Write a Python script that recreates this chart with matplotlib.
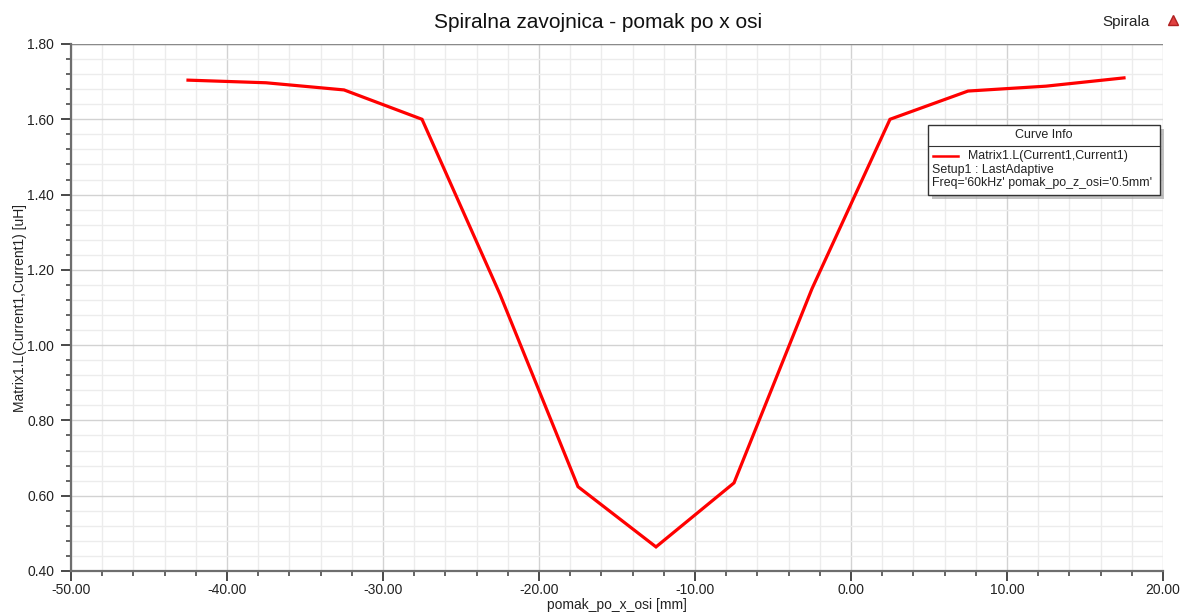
import matplotlib
matplotlib.use("Agg")
import matplotlib.pyplot as plt
from matplotlib.ticker import MultipleLocator, FormatStrFormatter
from matplotlib.patches import Rectangle
from matplotlib.lines import Line2D

plt.rcParams['font.family'] = ['Liberation Sans', 'DejaVu Sans']

title = "Spiralna zavojnica - pomak po x osi"
x_label = "pomak_po_x_osi [mm]"
y_label = "Matrix1.L(Current1,Current1) [uH]"
series_name = "Matrix1.L(Current1,Current1)"
info_lines = ["Setup1 : LastAdaptive", "Freq='60kHz' pomak_po_z_osi='0.5mm'"]
pomak_x = [-42.5, -37.5, -32.5, -27.5, -22.5, -17.5, -12.5, -7.5, -2.5, 2.5, 7.5, 12.5, 17.5]
inductance = [1.704, 1.697, 1.678, 1.600, 1.135, 0.624, 0.464, 0.634, 1.150, 1.600, 1.675, 1.688, 1.710]

fig = plt.figure(figsize=(11.88, 6.14), dpi=100)
ax = fig.add_axes([71/1188, 43/614, 1092/1188, 527/614])

ax.plot(pomak_x, inductance, color='#ff0000', lw=2.3, solid_joinstyle='miter', zorder=5)

ax.set_xlim(-50, 20)
ax.set_ylim(0.40, 1.80)
ax.xaxis.set_major_locator(MultipleLocator(10))
ax.xaxis.set_minor_locator(MultipleLocator(2))
ax.yaxis.set_major_locator(MultipleLocator(0.2))
ax.yaxis.set_minor_locator(MultipleLocator(0.04))
ax.xaxis.set_major_formatter(FormatStrFormatter('%.2f'))
ax.yaxis.set_major_formatter(FormatStrFormatter('%.2f'))

ax.grid(which='major', color='#d2d2d2', lw=1.0)
ax.grid(which='minor', color='#ececec', lw=1.0)
ax.set_axisbelow(True)

for s in ['top', 'right']:
    ax.spines[s].set_visible(False)
for s in ['left', 'bottom']:
    ax.spines[s].set_color('#6e6e6e')
    ax.spines[s].set_linewidth(1.6)
ax.axhline(1.80, color='#8a8a8a', lw=1.0, zorder=1)

ax.tick_params(which='major', direction='out', length=7, width=1.3, color='#3a3a3a',
               labelsize=10, labelcolor='#222222')
ax.tick_params(axis='y', which='major', pad=5)
ax.tick_params(axis='x', which='major', pad=2)
ax.tick_params(which='minor', direction='out', length=3.5, width=1.1, color='#3a3a3a')

ax.set_xlabel(x_label, fontsize=10, color='#222222', labelpad=0)
ax.set_ylabel(y_label, fontsize=10, color='#222222', labelpad=0)
fig.text(0.503, 1 - 22/614, title, ha='center', va='center', fontsize=15, color='#111111')

# Top-right label with icon
fig.text(1150/1188, 1 - 22/614, "Spirala", ha='right', va='center', fontsize=11, color='#222222')
fig.add_artist(Line2D([1173/1188], [1 - 20/614], marker='^', markersize=7,
                      color='#e04040', markeredgecolor='#b02020', transform=fig.transFigure))

# Curve Info box
bx0, by0, bx1, by1 = 928, 125, 1160, 195
W, H = 1188, 614
fig.add_artist(Rectangle(((bx0 + 4) / W, 1 - (by1 + 4) / H), (bx1 - bx0) / W, (by1 - by0) / H,
                         transform=fig.transFigure, facecolor='#9a9a9a', edgecolor='none', alpha=0.6, zorder=9))
fig.add_artist(Rectangle((bx0 / W, 1 - by1 / H), (bx1 - bx0) / W, (by1 - by0) / H,
                         transform=fig.transFigure, facecolor='white', edgecolor='#333333', lw=1.0, zorder=10))
fig.add_artist(Line2D([bx0 / W, bx1 / W], [1 - 146 / H, 1 - 146 / H], color='#333333', lw=0.8,
                      transform=fig.transFigure, zorder=11))
fig.text((bx0 + bx1) / 2 / W, 1 - 135 / H, "Curve Info", ha='center', va='center',
         fontsize=9.0, color='#222222', zorder=12)
fig.add_artist(Line2D([933 / W, 958 / W], [1 - 156 / H, 1 - 156 / H], color='#ff0000', lw=1.8,
                      transform=fig.transFigure, zorder=12))
fig.text(968 / W, 1 - 156 / H, series_name, ha='left', va='center', fontsize=8.9, color='#222222', zorder=12)
for i, line in enumerate(info_lines):
    fig.text(932 / W, 1 - (170 + 13 * i) / H, line, ha='left', va='center', fontsize=8.9,
             color='#222222', zorder=12)

fig.savefig('out.png', dpi=100)
